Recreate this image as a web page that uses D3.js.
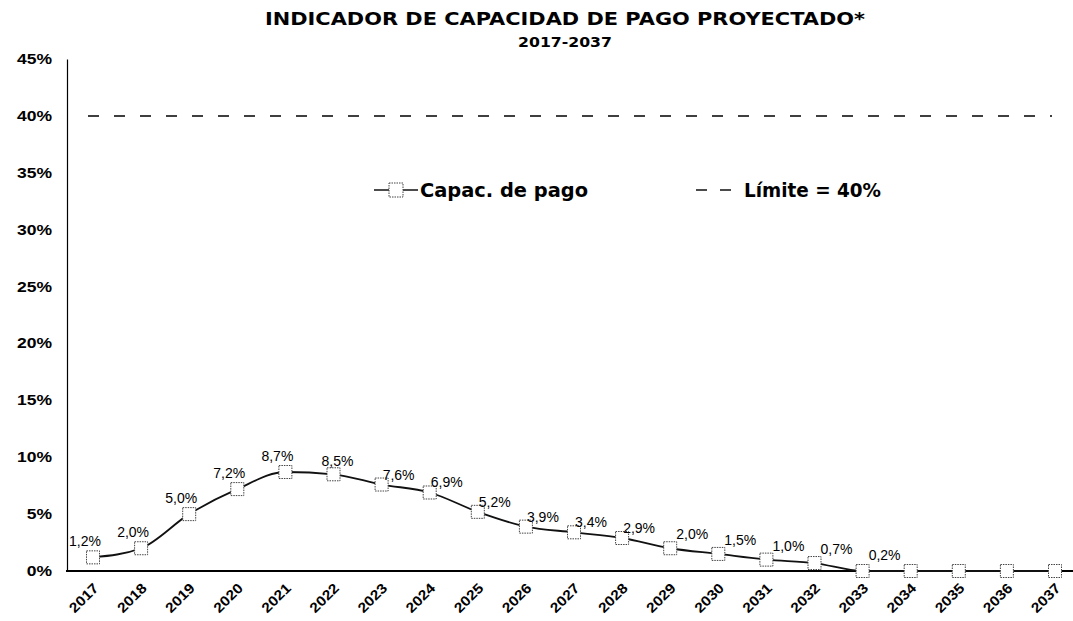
<!DOCTYPE html>
<html>
<head>
<meta charset="utf-8">
<script src="https://cdn.jsdelivr.net/npm/d3@7"></script>
<style>
  body { margin: 0; background: #fff; }
  svg { font-family: "DejaVu Sans", Verdana, sans-serif; }
  .lbl { font-family: "Liberation Sans", Arial, sans-serif; }
</style>
</head>
<body>
<svg id="chart" width="1073" height="621"></svg>
<script>
// data
var years = ['2017','2018','2019','2020','2021','2022','2023','2024','2025','2026','2027',
  '2028','2029','2030','2031','2032','2033','2034','2035','2036','2037'];
var capacidad = [1.2, 2.0, 5.0, 7.2, 8.7, 8.5, 7.6, 6.9, 5.2, 3.9, 3.4,
  2.9, 2.0, 1.5, 1.0, 0.7, 0.0, 0.0, 0.0, 0.0, 0.0];
var etiquetas = ['1,2%','2,0%','5,0%','7,2%','8,7%','8,5%','7,6%','6,9%','5,2%','3,9%','3,4%',
  '2,9%','2,0%','1,5%','1,0%','0,7%','0,2%','','','',''];
var limite = 40;
var yTicks = [0, 5, 10, 15, 20, 25, 30, 35, 40, 45];

var svg = d3.select('#chart');

var x = d3.scalePoint().domain(years).range([93, 1055]);
var y = d3.scaleLinear().domain([0, 45]).range([571, 59]);

// stretch text a bit wider, like the scanned original
function widen(sel, k) {
  sel.each(function () {
    var w = this.getComputedTextLength();
    d3.select(this).attr('textLength', w * k).attr('lengthAdjust', 'spacingAndGlyphs');
  });
}

// title
svg.append('text').attr('x', 565).attr('y', 25).attr('text-anchor', 'middle')
  .style('font-size', '18px').style('font-weight', 'bold')
  .attr('textLength', 600).attr('lengthAdjust', 'spacingAndGlyphs')
  .text('INDICADOR DE CAPACIDAD DE PAGO PROYECTADO*');
svg.append('text').attr('x', 565).attr('y', 47).attr('text-anchor', 'middle')
  .style('font-size', '14px').style('font-weight', 'bold')
  .text('2017-2037')
  .call(widen, 1.12);

// y axis
var yAxis = svg.append('g').attr('transform', 'translate(67,0)')
  .call(d3.axisLeft(y).tickValues(yTicks).tickSize(0).tickPadding(15).tickFormat(d => d + '%'));
yAxis.select('.domain').attr('stroke', '#000').attr('stroke-width', 1.2);
yAxis.selectAll('text').style('font-size', '14px').style('font-weight', 'bold').call(widen, 1.25);

// x axis
var xAxis = svg.append('g').attr('transform', 'translate(0,571)')
  .call(d3.axisBottom(x).tickSize(0));
xAxis.select('.domain').attr('d', 'M66,0H1073').attr('stroke', '#000').attr('stroke-width', 2);
xAxis.selectAll('text')
  .style('font-size', '14px').style('font-weight', 'bold')
  .attr('text-anchor', 'end')
  .attr('dy', null).attr('y', 0)
  .attr('transform', 'translate(6,18) rotate(-45)')
  .call(widen, 1.12);

// limit line
svg.append('line')
  .attr('x1', 88).attr('x2', 1052)
  .attr('y1', y(limite)).attr('y2', y(limite))
  .attr('stroke', '#000').attr('stroke-width', 1.5)
  .attr('stroke-dasharray', '11,15');

// series line
var line = d3.line()
  .x((d, i) => x(years[i]))
  .y(d => y(d))
  .curve(d3.curveMonotoneX);

svg.append('path')
  .datum(capacidad)
  .attr('d', line)
  .attr('fill', 'none')
  .attr('stroke', '#111')
  .attr('stroke-width', 1.8);

// markers
svg.append('g').selectAll('rect')
  .data(capacidad)
  .enter()
  .append('rect')
  .attr('x', (d, i) => x(years[i]) - 6.5)
  .attr('y', d => y(d) - 6.5)
  .attr('width', 13).attr('height', 13)
  .attr('fill', '#fff')
  .attr('stroke', '#444')
  .attr('stroke-width', 1)
  .attr('stroke-dasharray', '1.5,1');

// value labels: above on the rise, above-right on the decline
function labelDx(i) {
  if (i < 5) return -8;
  if (i === 5) return 4;
  if (i < 12) return 17;
  return 22;
}
function labelDy(i) {
  if (i < 5) return -11;
  if (i === 5) return -8;
  if (i < 12) return -5;
  return -9;
}
svg.append('g').selectAll('text')
  .data(capacidad)
  .enter()
  .append('text')
  .attr('class', 'lbl')
  .attr('x', (d, i) => x(years[i]) + labelDx(i))
  .attr('y', (d, i) => y(i === 16 ? 0.2 : d) + labelDy(i))
  .attr('text-anchor', 'middle')
  .style('font-size', '14px')
  .text((d, i) => etiquetas[i]);

// legend
var leg = svg.append('g');
leg.append('line').attr('x1', 374).attr('x2', 418).attr('y1', 190).attr('y2', 190)
  .attr('stroke', '#111').attr('stroke-width', 1.5);
leg.append('rect').attr('x', 389).attr('y', 183).attr('width', 14).attr('height', 14)
  .attr('fill', '#fff').attr('stroke', '#444').attr('stroke-dasharray', '1.5,1');
leg.append('text').attr('x', 420).attr('y', 197)
  .style('font-size', '19px').style('font-weight', 'bold')
  .attr('textLength', 168).attr('lengthAdjust', 'spacingAndGlyphs')
  .text('Capac. de pago');
leg.append('line').attr('x1', 696).attr('x2', 731).attr('y1', 190).attr('y2', 190)
  .attr('stroke', '#111').attr('stroke-width', 1.5).attr('stroke-dasharray', '11,13');
leg.append('text').attr('x', 744).attr('y', 197)
  .style('font-size', '19px').style('font-weight', 'bold')
  .attr('textLength', 137).attr('lengthAdjust', 'spacingAndGlyphs')
  .text('Límite = 40%');
</script>
</body>
</html>
